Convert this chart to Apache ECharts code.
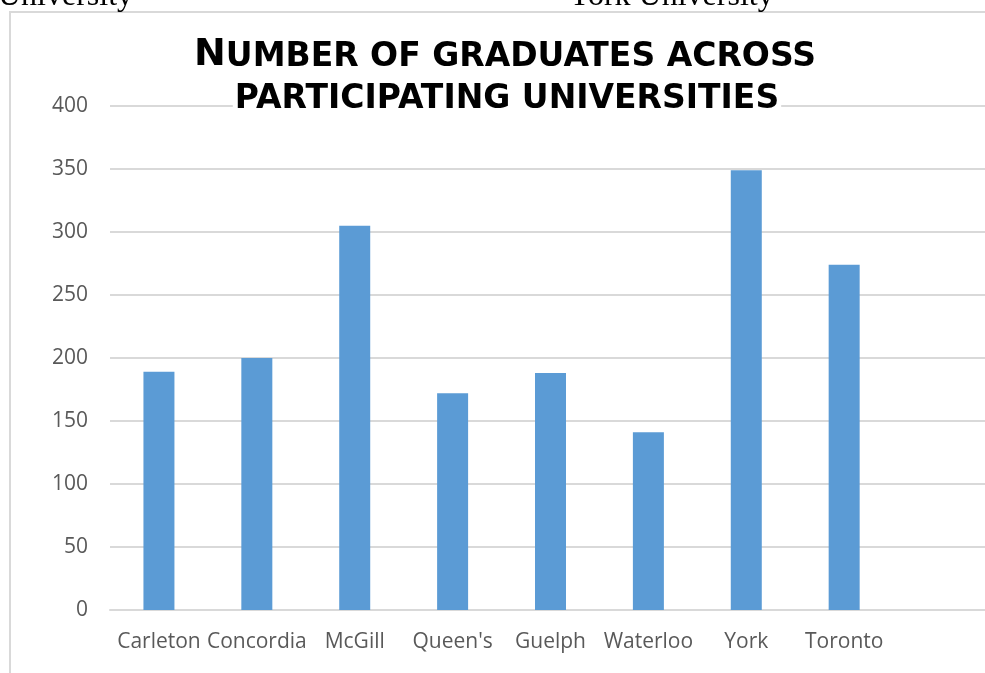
<!DOCTYPE html>
<html>
<head>
<meta charset="utf-8">
<script src="https://cdn.jsdelivr.net/npm/echarts@6/dist/echarts.min.js"></script>
<style>
  html, body { margin: 0; padding: 0; background: #fff; }
  #chart { width: 985px; height: 673px; }
</style>
</head>
<body>
<div id="chart"></div>
<script>
// universities, last slot is an empty category like in the sheet
const universities = ['Carleton', 'Concordia', 'McGill', "Queen's", 'Guelph', 'Waterloo', 'York', 'Toronto', ''];
const graduates = [189, 200, 305, 172, 188, 141, 349, 274];

const chart = echarts.init(document.getElementById('chart'));

chart.setOption({
  animation: false,
  backgroundColor: '#fff',
  title: [
    {
      left: 505,
      top: 36,
      textAlign: 'center',
      padding: 0,
      text: '{n|N}{s|UMBER OF GRADUATES ACROSS}',
      textStyle: {
        rich: {
          n: { fontFamily: 'DejaVu Sans', fontWeight: 'bold', fontSize: 38, color: '#000', verticalAlign: 'bottom' },
          s: { fontFamily: 'DejaVu Sans', fontWeight: 'bold', fontSize: 33, color: '#000', verticalAlign: 'bottom' }
        }
      }
    },
    {
      left: 505,
      top: 83,
      textAlign: 'center',
      padding: [0, 2],
      backgroundColor: '#fff',
      text: 'PARTICIPATING UNIVERSITIES',
      textStyle: { fontFamily: 'DejaVu Sans', fontWeight: 'bold', fontSize: 33, color: '#000' }
    }
  ],
  graphic: [
    {
      type: 'rect',
      z: -1,
      shape: { x: 10, y: 12, width: 1100, height: 800 },
      style: { fill: 'none', stroke: '#d9d9d9', lineWidth: 2 }
    },
    {
      type: 'text',
      style: { x: -2, y: -19, text: 'University', font: '32px "Liberation Serif"', fill: '#000' }
    },
    {
      type: 'text',
      style: { x: 568, y: -19, text: 'York University', font: '32px "Liberation Serif"', fill: '#000' }
    }
  ],
  grid: { left: 110, width: 881, top: 106, bottom: 63, outerBoundsMode: 'none' },
  xAxis: {
    type: 'category',
    data: universities,
    axisTick: { show: false },
    axisLine: { lineStyle: { color: '#d9d9d9', width: 2 } },
    axisLabel: { color: '#595959', fontFamily: 'Open Sans', fontSize: 21, margin: 22, interval: 0 }
  },
  yAxis: {
    type: 'value',
    min: 0,
    max: 400,
    interval: 50,
    axisLine: { show: false },
    axisTick: { show: false },
    splitLine: { lineStyle: { color: '#d9d9d9', width: 2 } },
    axisLabel: { color: '#595959', fontFamily: 'Open Sans', fontSize: 21, margin: 22 }
  },
  series: [{
    type: 'bar',
    data: graduates,
    barWidth: 31,
    itemStyle: { color: '#5b9bd5' }
  }]
});
</script>
</body>
</html>
